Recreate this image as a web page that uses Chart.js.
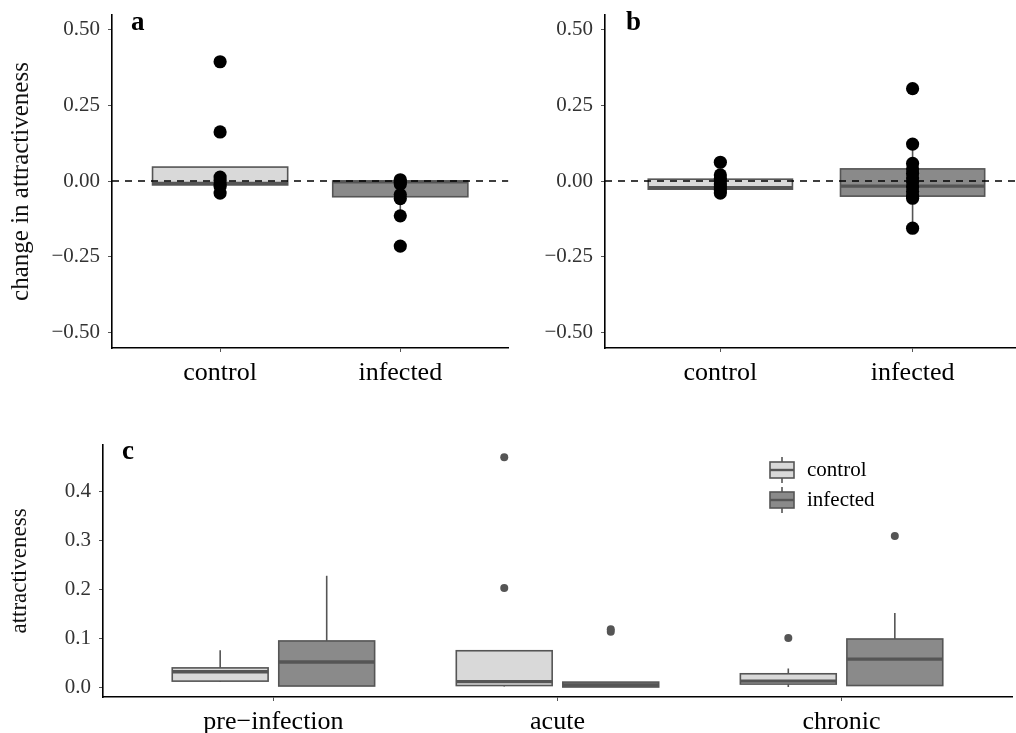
<!DOCTYPE html>
<html><head><meta charset="utf-8">
<script src="https://cdn.jsdelivr.net/npm/chart.js@4"></script>
<style>
body{margin:0;background:#fff;width:1016px;height:733px;overflow:hidden;position:relative}
canvas{position:absolute}
</style></head><body>
<canvas id="ca" width="515" height="400" style="left:0;top:0;width:515px;height:400px"></canvas>
<canvas id="cb" width="515" height="400" style="left:508px;top:0;width:515px;height:400px"></canvas>
<canvas id="cc" width="1016" height="313" style="left:0;top:420px;width:1016px;height:313px"></canvas>
<script>
// ---------- data ----------
const groups = ['control', 'infected'];
const changeTicks = [-0.5, -0.25, 0, 0.25, 0.5];
const changeTickLabels = ['\u22120.50', '\u22120.25', '0.00', '0.25', '0.50'];
const attrTicks = [0, 0.1, 0.2, 0.3, 0.4];
const attrTickLabels = ['0.0', '0.1', '0.2', '0.3', '0.4'];
const phases = ['pre\u2212infection', 'acute', 'chronic'];

// box stats: [lower whisker, q1, median, q3, upper whisker]
const aControlBox = [-0.013, -0.013, -0.008, 0.046, 0.046];
const aInfectedBox = [-0.115, -0.052, -0.003, 0.0, 0.0];
const aControlPoints = [0.394, 0.162, 0.013, 0.002, -0.01, -0.018, -0.04];
const aInfectedPoints = [0.004, -0.004, -0.01, -0.045, -0.058, -0.115, -0.215];

const bControlBox = [-0.027, -0.027, -0.022, 0.006, 0.006];
const bInfectedBox = [-0.156, -0.05, -0.017, 0.04, 0.122];
const bControlPoints = [0.062, 0.02, 0.008, 0.0, -0.01, -0.02, -0.03, -0.04];
const bInfectedPoints = [0.305, 0.122, 0.058, 0.04, 0.025, 0.01, -0.003, -0.02, -0.035, -0.05, -0.057, -0.156];

const cControlBoxes = [
  [0.010, 0.012, 0.031, 0.039, 0.075],
  [0.001, 0.003, 0.011, 0.074, 0.074],
  [0.000, 0.006, 0.012, 0.027, 0.038]
];
const cInfectedBoxes = [
  [0.002, 0.002, 0.051, 0.094, 0.227],
  [0.000, 0.000, 0.004, 0.010, 0.010],
  [0.003, 0.003, 0.057, 0.098, 0.151]
];
const cControlOutliers = [[], [0.469, 0.202], [0.100]];
const cInfectedOutliers = [[], [0.113, 0.118], [0.308]];

// ---------- styles ----------
const FONT = "'Liberation Serif', 'Times New Roman', serif";
const LIGHT = '#d9d9d9', DARK = '#8a8a8a', EDGE = '#555555';
Chart.defaults.font.family = FONT;
Chart.defaults.color = '#333';

const boxPlugin = {
  id: 'boxes',
  beforeDatasetsDraw(chart, args, opts) {
    const { ctx, scales: { x, y } } = chart;
    (opts.items || []).forEach(b => {
      const [wl, q1, med, q3, wh] = b.stats;
      const cx = x.getPixelForValue(b.x);
      const hw = Math.abs(x.getPixelForValue(b.x + b.w / 2) - cx);
      const py = v => y.getPixelForValue(v);
      ctx.save();
      ctx.strokeStyle = EDGE;
      ctx.lineWidth = 1.6;
      ctx.beginPath();
      ctx.moveTo(cx, py(q3)); ctx.lineTo(cx, py(wh));
      ctx.moveTo(cx, py(q1)); ctx.lineTo(cx, py(wl));
      ctx.stroke();
      ctx.fillStyle = b.fill;
      ctx.fillRect(cx - hw, py(q3), 2 * hw, py(q1) - py(q3));
      ctx.strokeRect(cx - hw, py(q3), 2 * hw, py(q1) - py(q3));
      ctx.lineWidth = 3.4;
      ctx.beginPath();
      ctx.moveTo(cx - hw, py(med)); ctx.lineTo(cx + hw, py(med));
      ctx.stroke();
      ctx.restore();
    });
  }
};

const labelPlugin = {
  id: 'panelLabel',
  afterDraw(chart, args, opts) {
    if (!opts.text) return;
    const ctx = chart.ctx;
    ctx.save();
    ctx.font = 'bold 27px ' + FONT;
    ctx.fillStyle = '#000';
    ctx.textBaseline = 'alphabetic';
    ctx.fillText(opts.text, opts.x, opts.y);
    ctx.restore();
  }
};

const legendPlugin = {
  id: 'boxLegend',
  afterDraw(chart, args, opts) {
    if (!opts.items) return;
    const ctx = chart.ctx;
    ctx.save();
    opts.items.forEach((it, i) => {
      const cy = opts.y + i * opts.gap;
      const cx = opts.x;
      ctx.strokeStyle = EDGE;
      ctx.lineWidth = 1.6;
      ctx.beginPath(); ctx.moveTo(cx, cy - 13); ctx.lineTo(cx, cy + 13); ctx.stroke();
      ctx.fillStyle = it.fill;
      ctx.fillRect(cx - 12, cy - 8, 24, 16);
      ctx.strokeRect(cx - 12, cy - 8, 24, 16);
      ctx.lineWidth = 2.4;
      ctx.beginPath(); ctx.moveTo(cx - 12, cy); ctx.lineTo(cx + 12, cy); ctx.stroke();
      ctx.fillStyle = '#000';
      ctx.font = '21px ' + FONT;
      ctx.textBaseline = 'middle';
      ctx.fillText(it.label, cx + 25, cy);
    });
    ctx.restore();
  }
};
Chart.register(boxPlugin, labelPlugin, legendPlugin);

function pts(xv, arr) { return arr.map(v => ({ x: xv, y: v })); }

function axisX(min, max, labels, h) {
  return {
    type: 'linear', min, max,
    afterBuildTicks: s => { s.ticks = labels.map((l, i) => ({ value: i })); },
    afterFit: s => { s.height = h; },
    ticks: { callback: (v, i) => labels[i], autoSkip: false, maxRotation: 0, padding: 6,
             font: { size: 26 }, color: '#000' },
    grid: { drawOnChartArea: false, drawTicks: true, tickLength: 4, color: '#555', lineWidth: 1 },
    border: { display: true, color: '#000', width: 1.6 }
  };
}
function axisY(min, max, tickVals, tickLabels, w, title, titleSize) {
  return {
    min, max,
    afterBuildTicks: s => { s.ticks = tickVals.map(v => ({ value: v })); },
    afterFit: s => { s.width = w; s.paddingTop = 0; s.paddingBottom = 0; },
    ticks: { callback: (v, i) => tickLabels[i], padding: 8, font: { size: 21 }, color: '#333' },
    grid: { drawOnChartArea: false, drawTicks: true, tickLength: 4, color: '#555', lineWidth: 1 },
    border: { display: true, color: '#000', width: 1.6 },
    title: title ? { display: true, text: title, font: { size: titleSize }, color: '#111', padding: { top: 6, bottom: 0 } } : { display: false }
  };
}

const BW = 0.75;
function changeChart(id, ctrlBox, infBox, ctrlPts, infPts, xmax, yw, title, label, lx) {
  return new Chart(document.getElementById(id), {
    type: 'scatter',
    data: {
      datasets: [
        { data: pts(0, ctrlPts).concat(pts(1, infPts)), backgroundColor: '#000', borderWidth: 0, pointRadius: 6.6 },
        { type: 'line', data: [{ x: -0.6, y: 0 }, { x: xmax, y: 0 }], borderColor: '#000', borderWidth: 1.6,
          borderDash: [7, 6], pointRadius: 0, fill: false }
      ]
    },
    options: {
      responsive: false, animation: false,
      layout: { padding: { top: 15, right: 0, left: 0, bottom: 0 } },
      plugins: {
        legend: { display: false }, tooltip: { enabled: false },
        boxes: { items: [
          { x: 0, w: BW, stats: ctrlBox, fill: LIGHT },
          { x: 1, w: BW, stats: infBox, fill: DARK }
        ] },
        panelLabel: { text: label, x: lx, y: 30 }
      },
      scales: {
        x: axisX(-0.6, xmax, groups, 52),
        y: axisY(-0.5517, 0.5484, changeTicks, changeTickLabels, yw, title, 25)
      }
    }
  });
}

changeChart('ca', aControlBox, aInfectedBox, aControlPoints, aInfectedPoints, 1.6, 112, 'change in attractiveness', 'a', 131);
changeChart('cb', bControlBox, bInfectedBox, bControlPoints, bInfectedPoints, 1.54, 97, null, 'b', 118);

// panel c
const OFF = 0.1875, CW = 0.3375;
const cBoxes = [];
const cOut = [];
phases.forEach((p, i) => {
  cBoxes.push({ x: i - OFF, w: CW, stats: cControlBoxes[i], fill: LIGHT });
  cBoxes.push({ x: i + OFF, w: CW, stats: cInfectedBoxes[i], fill: DARK });
  cControlOutliers[i].forEach(v => cOut.push({ x: i - OFF, y: v }));
  cInfectedOutliers[i].forEach(v => cOut.push({ x: i + OFF, y: v }));
});

new Chart(document.getElementById('cc'), {
  type: 'scatter',
  data: { datasets: [{ data: cOut, backgroundColor: EDGE, borderWidth: 0, pointRadius: 4 }] },
  options: {
    responsive: false, animation: false,
    layout: { padding: { top: 25, right: 4, left: 0, bottom: 0 } },
    plugins: {
      legend: { display: false }, tooltip: { enabled: false },
      boxes: { items: cBoxes },
      panelLabel: { text: 'c', x: 122, y: 39 },
      boxLegend: { x: 782, y: 50, gap: 30, items: [
        { label: groups[0], fill: LIGHT }, { label: groups[1], fill: DARK }
      ] }
    },
    scales: {
      x: axisX(-0.6, 2.6, phases, 36),
      y: axisY(-0.0204, 0.4939, attrTicks, attrTickLabels, 103, 'attractiveness', 23)
    }
  }
});
</script>
</body></html>
